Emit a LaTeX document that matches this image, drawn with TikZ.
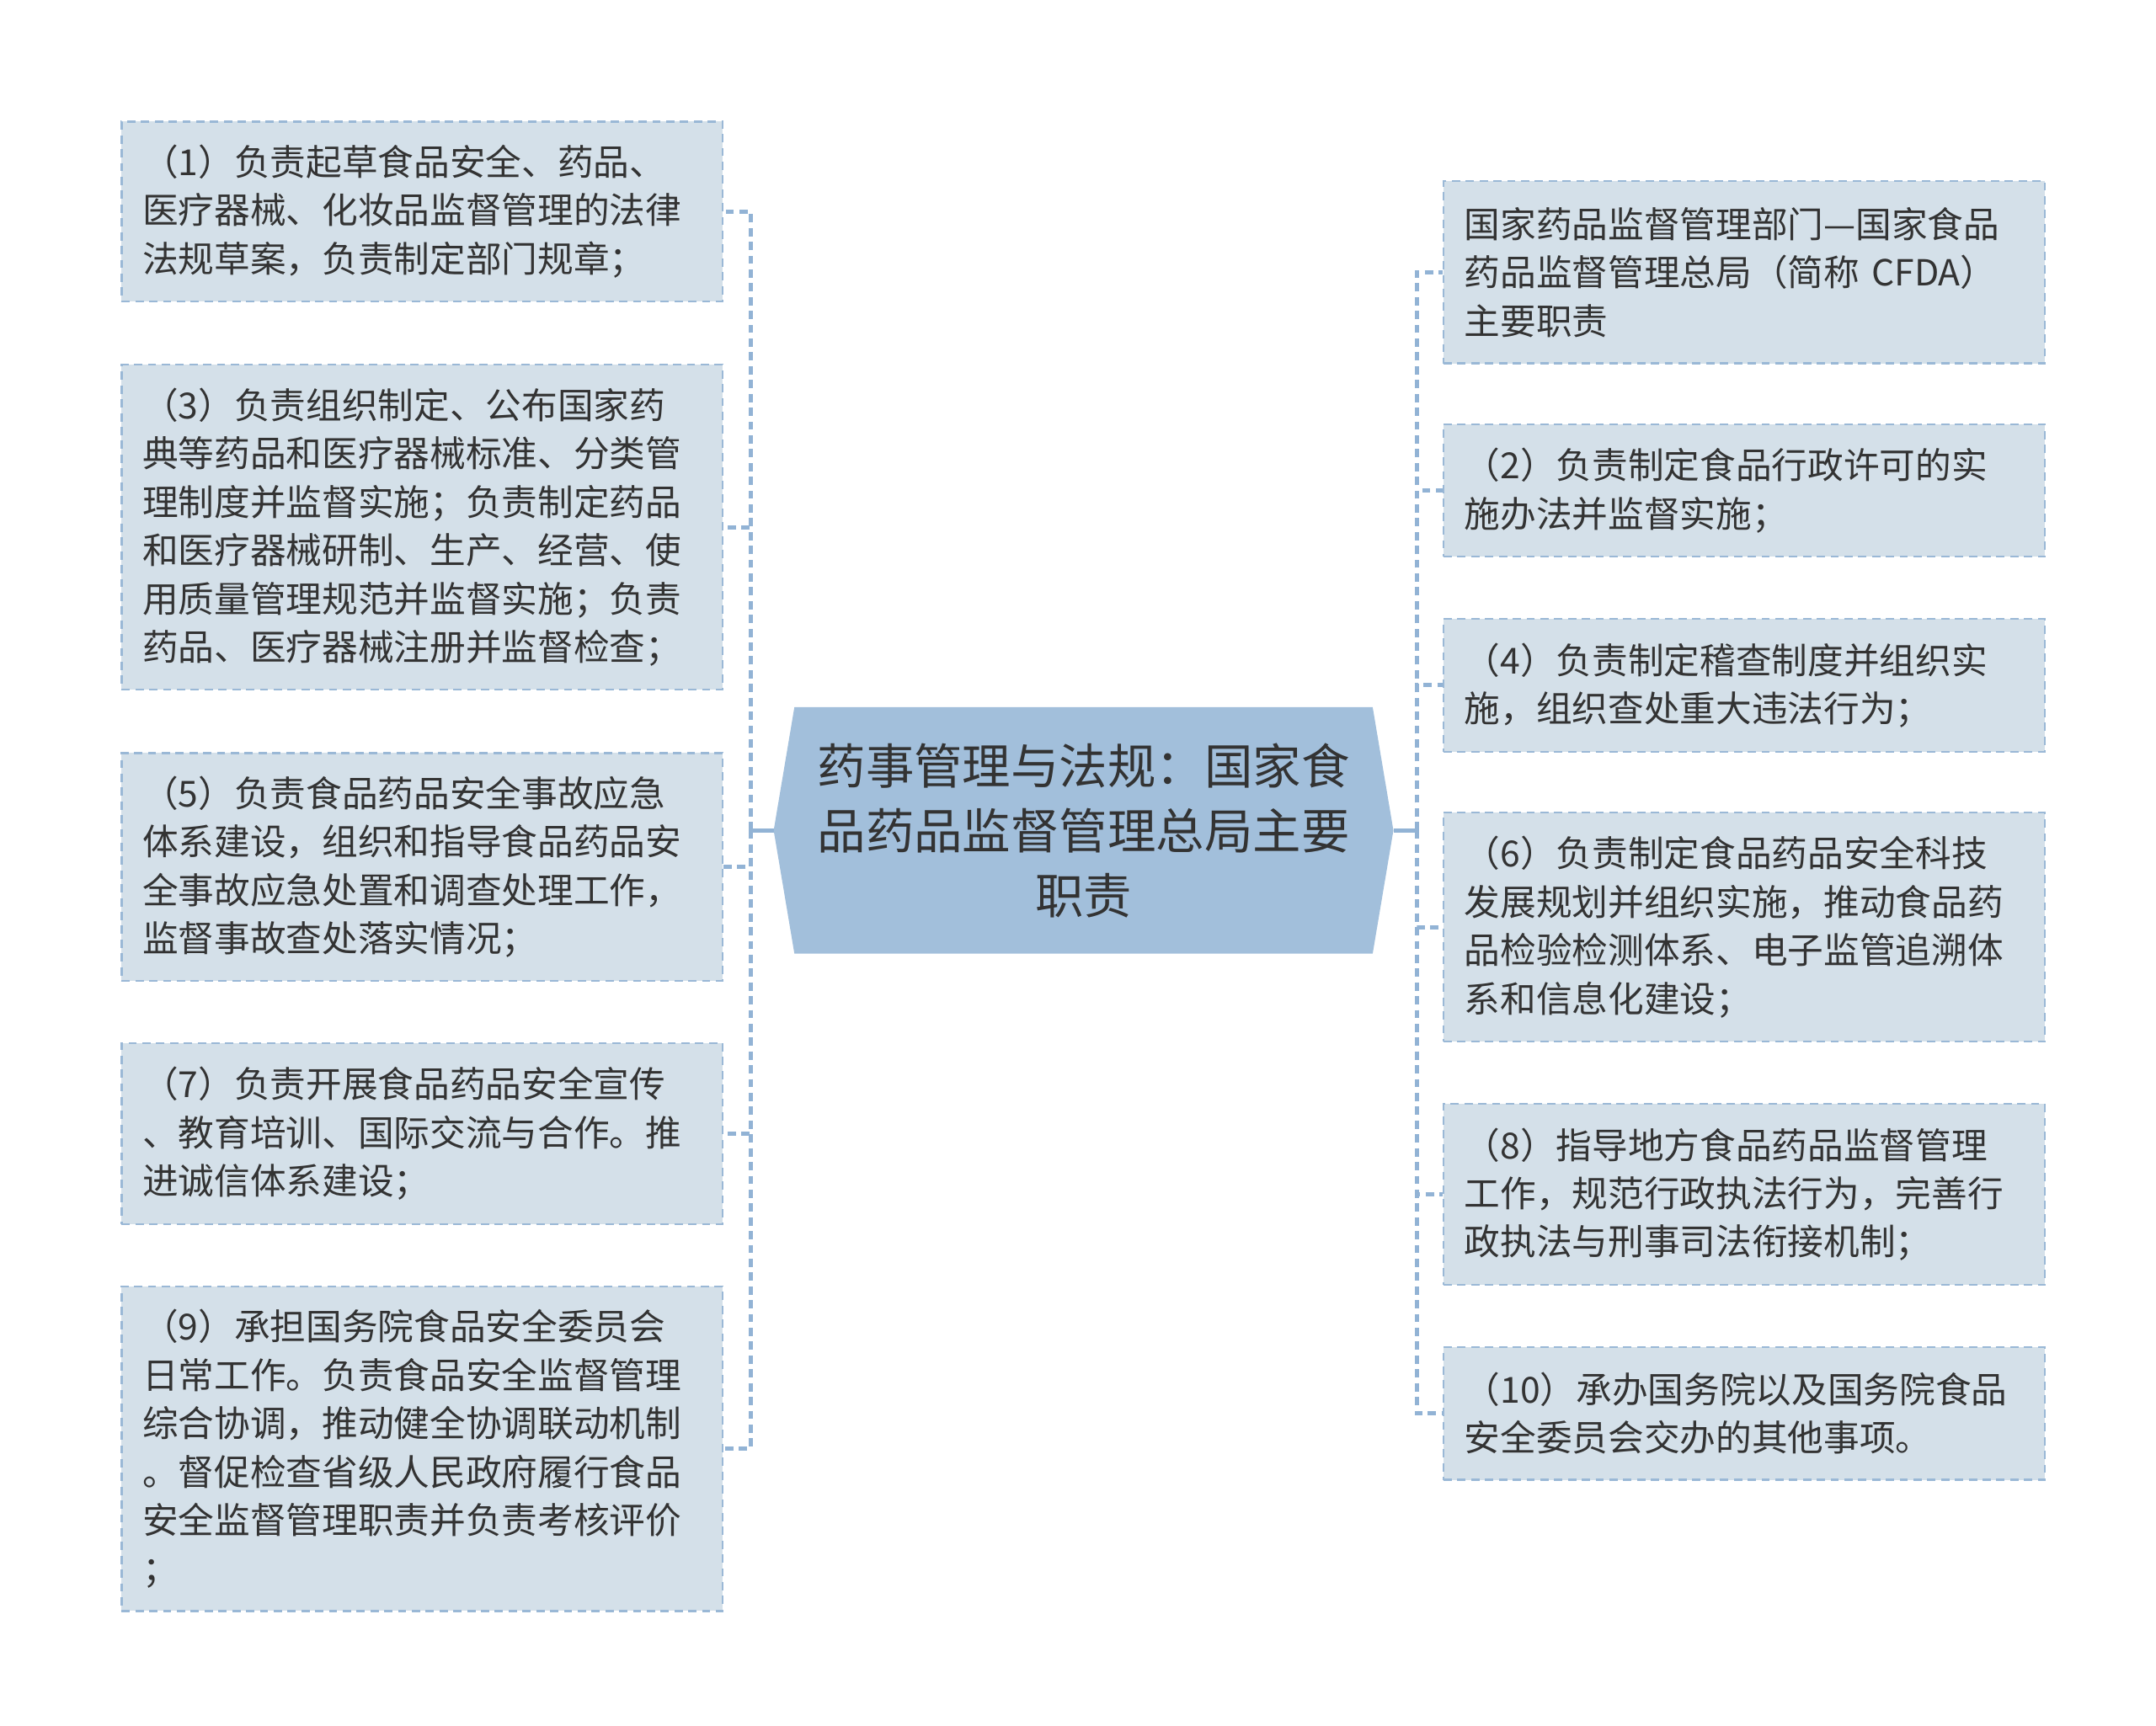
\documentclass[tikz,border=0pt]{standalone}
\usepackage{fontspec}
\usepackage{tikz}
\usetikzlibrary{backgrounds}
\newfontfamily\cjk{Noto Sans CJK SC}
\definecolor{rootfill}{HTML}{A2BFDB}
\definecolor{boxfill}{HTML}{D4E0E9}
\definecolor{edgeblue}{HTML}{9AB8D6}
\definecolor{busblue}{HTML}{92B3D5}
\definecolor{inkgray}{HTML}{333333}
\tikzstyle{duty}=[rectangle,draw=edgeblue,fill=boxfill,line width=1.4pt,
dash pattern=on 6pt off 4pt,text=inkgray,inner xsep=15pt,inner ysep=0pt,
text width=405pt,align=left,font=\cjk\fontsize{26}{35}\selectfont]
\tikzstyle{hub}=[rectangle,inner sep=0pt,minimum width=448pt,minimum height=178pt,
text=inkgray,align=center,font=\cjk\fontsize{35}{47}\selectfont]
\tikzstyle{link}=[draw=busblue,line width=3pt]
\tikzstyle{bus}=[draw=busblue,line width=3pt,dash pattern=on 6pt off 4pt]

\begin{document}
\begin{tikzpicture}[x=1pt,y=-1pt]
	\useasboundingbox (0,0) rectangle (1560,1249);
	
	\node  (root)  at (784,601) [hub] {药事管理与法规：国家食\\品药品监督管理总局主要\\职责};
	\begin{scope}[on background layer]
	\fill [rootfill] (root.west) -- ([xshift=15pt]root.north west) -- ([xshift=-15pt]root.north east)
		-- (root.east) -- ([xshift=-15pt]root.south east) -- ([xshift=15pt]root.south west) -- cycle;
	\end{scope}
	
	\node  (d1)   at (305.5,153)   [duty,minimum height=130pt] {（1）负责起草食品安全、药品、\\医疗器械、化妆品监督管理的法律\\法规草案，负责制定部门规章；};
	\node  (d3)   at (305.5,381.5) [duty,minimum height=235pt] {（3）负责组织制定、公布国家药\\典等药品和医疗器械标准、分类管\\理制度并监督实施；负责制定药品\\和医疗器械研制、生产、经营、使\\用质量管理规范并监督实施；负责\\药品、医疗器械注册并监督检查；};
	\node  (d5)   at (305.5,627.5) [duty,minimum height=165pt] {（5）负责食品药品安全事故应急\\体系建设，组织和指导食品药品安\\全事故应急处置和调查处理工作，\\监督事故查处落实情况；};
	\node  (d7)   at (305.5,820.5) [duty,minimum height=131pt] {（7）负责开展食品药品安全宣传\\、教育培训、国际交流与合作。推\\进诚信体系建设；};
	\node  (d9)   at (305.5,1048.5) [duty,minimum height=235pt] {（9）承担国务院食品安全委员会\\日常工作。负责食品安全监督管理\\综合协调，推动健全协调联动机制\\。督促检查省级人民政府履行食品\\安全监督管理职责并负责考核评价\\；};
	
	\node  (d0)   at (1262,197)    [duty,minimum height=132pt] {国家药品监督管理部门—国家食品\\药品监督管理总局（简称~CFDA）\\主要职责};
	\node  (d2)   at (1262,355)    [duty,minimum height=96pt] {（2）负责制定食品行政许可的实\\施办法并监督实施；};
	\node  (d4)   at (1262,496)    [duty,minimum height=96pt] {（4）负责制定稽查制度并组织实\\施，组织查处重大违法行为；};
	\node  (d6)   at (1262,671)    [duty,minimum height=166pt] {（6）负责制定食品药品安全科技\\发展规划并组织实施，推动食品药\\品检验检测体系、电子监管追溯体\\系和信息化建设；};
	\node  (d8)   at (1262,864.5)  [duty,minimum height=131pt] {（8）指导地方食品药品监督管理\\工作，规范行政执法行为，完善行\\政执法与刑事司法衔接机制；};
	\node  (d10)  at (1262,1023)   [duty,minimum height=96pt] {（10）承办国务院以及国务院食品\\安全委员会交办的其他事项。};
	
	\coordinate (lbus) at (543,601);
	\coordinate (rbus) at (1025,601);
	
	\begin{scope}[on background layer]
	\draw [link] (root.west) to (lbus);
	\draw [link] (root.east) to (rbus);
	\draw [bus] (lbus) |- (d1.east);
	\draw [bus] (lbus) |- (d3.east);
	\draw [bus] (lbus) |- (d5.east);
	\draw [bus] (lbus) |- (d7.east);
	\draw [bus] (lbus) |- (d9.east);
	\draw [bus] (rbus) |- (d0.west);
	\draw [bus] (rbus) |- (d2.west);
	\draw [bus] (rbus) |- (d4.west);
	\draw [bus] (rbus) |- (d6.west);
	\draw [bus] (rbus) |- (d8.west);
	\draw [bus] (rbus) |- (d10.west);
	\end{scope}
	
\end{tikzpicture}
\end{document}
